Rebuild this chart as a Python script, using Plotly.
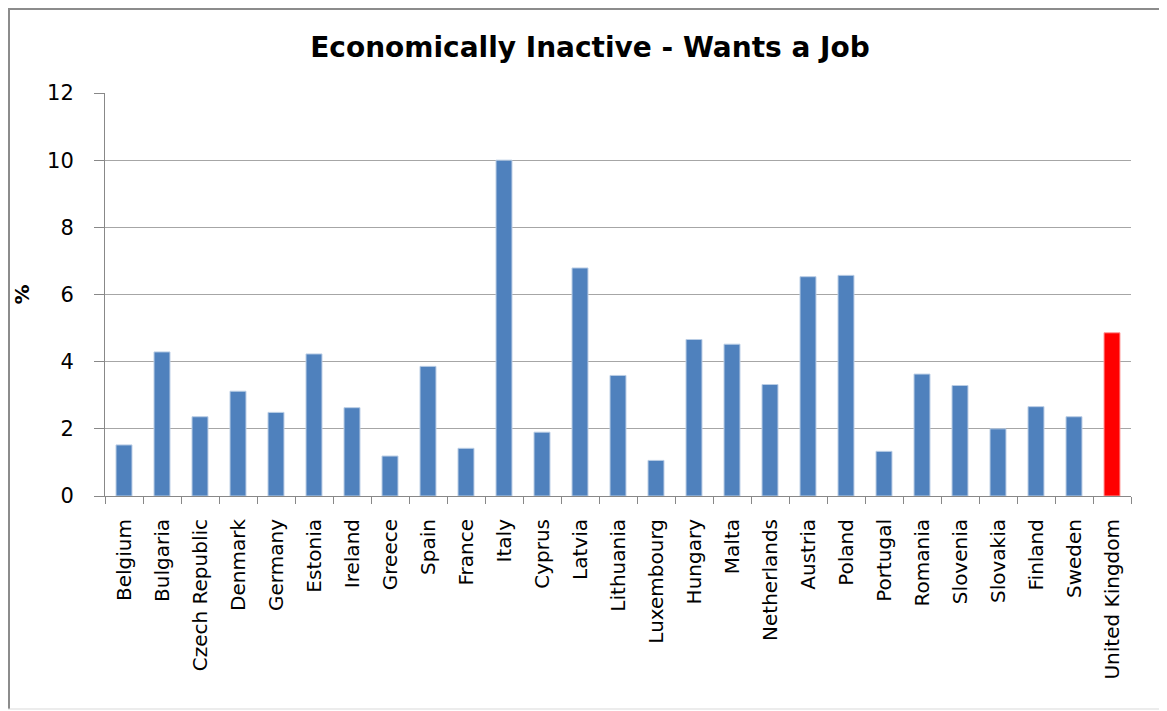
import plotly.graph_objects as go

countries = ["Belgium", "Bulgaria", "Czech Republic", "Denmark", "Germany", "Estonia",
             "Ireland", "Greece", "Spain", "France", "Italy", "Cyprus", "Latvia",
             "Lithuania", "Luxembourg", "Hungary", "Malta", "Netherlands", "Austria",
             "Poland", "Portugal", "Romania", "Slovenia", "Slovakia", "Finland",
             "Sweden", "United Kingdom"]
values = [1.52, 4.29, 2.36, 3.12, 2.49, 4.23, 2.63, 1.19, 3.86, 1.42, 10.0, 1.90, 6.79,
          3.59, 1.06, 4.66, 4.52, 3.32, 6.53, 6.57, 1.33, 3.63, 3.29, 2.00, 2.66,
          2.36, 4.86]
highlight = "United Kingdom"
y_ticks = [0, 2, 4, 6, 8, 10, 12]

colors = ["#FF0000" if c == highlight else "#4F81BD" for c in countries]
line_colors = ["#FF9999" if c == highlight else "#B9CDE5" for c in countries]

fig = go.Figure(go.Bar(
    x=countries, y=values,
    marker=dict(color=colors, line=dict(color=line_colors, width=1)),
    width=0.42,
))

W, H = 1159, 703
L, R, T, B = 97, 36, 85, 215
PW, PH = W - L - R, H - T - B

fig.update_layout(
    width=W, height=H,
    margin=dict(l=L, r=R, t=T, b=B),
    paper_bgcolor="white", plot_bgcolor="white",
    showlegend=False,
    title=dict(text="<b>Economically Inactive - Wants a Job</b>",
               x=582 / W, xanchor="center", y=1 - 39 / H, yanchor="middle",
               font=dict(family="DejaVu Sans", size=28, color="#000000")),
    font=dict(family="DejaVu Sans", color="#000000"),
)

fig.update_xaxes(
    type="category", tickangle=-90, tickson="boundaries",
    ticks="outside", ticklen=7, tickcolor="#888888", tickwidth=1,
    ticklabelstandoff=14,
    showline=True, linecolor="#888888", linewidth=1,
    showgrid=False,
    tickfont=dict(family="DejaVu Sans", size=20, color="#000000"),
)
fig.update_yaxes(
    range=[0, 12], tickvals=y_ticks,
    ticks="outside", ticklen=10, tickcolor="#888888", tickwidth=1,
    ticklabelstandoff=16,
    showline=True, linecolor="#888888", linewidth=1,
    showgrid=True, gridcolor="#A6A6A6", gridwidth=1,
    zeroline=False,
    tickfont=dict(family="DejaVu Sans", size=21, color="#000000"),
    title=dict(text="<b>%</b>", standoff=12,
               font=dict(family="DejaVu Sans", size=20, color="#000000")),
)

# outer chart frame (left/top dark, bottom light)
def px_x(v):
    return (v - L) / PW

def px_y(v):
    return (H - B - v) / PH

fig.add_shape(type="line", xref="paper", yref="paper",
              x0=px_x(1), x1=px_x(1), y0=px_y(701), y1=px_y(1),
              line=dict(color="#8C8C8C", width=2), layer="below")
fig.add_shape(type="line", xref="paper", yref="paper",
              x0=px_x(0), x1=px_x(W + 5), y0=px_y(1), y1=px_y(1),
              line=dict(color="#8C8C8C", width=2), layer="below")
fig.add_shape(type="line", xref="paper", yref="paper",
              x0=px_x(0), x1=px_x(W + 5), y0=px_y(701), y1=px_y(701),
              line=dict(color="#D9D9D9", width=1), layer="below")

fig.write_html("out.html")
